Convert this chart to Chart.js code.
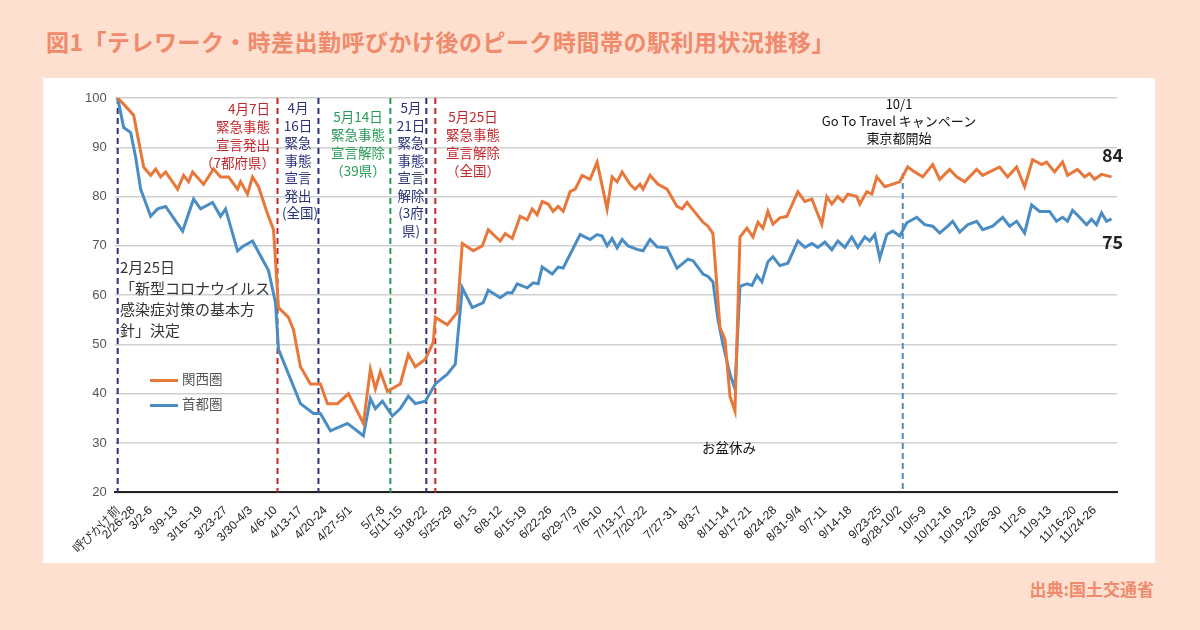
<!DOCTYPE html>
<html><head><meta charset="utf-8">
<script src="https://cdn.jsdelivr.net/npm/chart.js@4/dist/chart.umd.min.js"></script>
<style>
body{margin:0;width:1200px;height:630px;background:#fde0cf;font-family:"Noto Sans CJK JP","Noto Sans",sans-serif;position:relative;overflow:hidden}
#title{position:absolute;left:46px;top:24px;font-size:23px;font-weight:bold;color:#ef8a6d;letter-spacing:0.5px}
#src{position:absolute;right:46px;top:576px;font-size:17px;font-weight:bold;color:#ef8a6d}
#box{position:absolute;left:43px;top:78px;width:1112px;height:485px;background:#fff}
.a{position:absolute;font-size:13.5px;line-height:18px;text-align:center;white-space:nowrap}
</style></head><body>
<div id="title">図1「テレワーク・時差出勤呼びかけ後のピーク時間帯の駅利用状況推移」</div>
<div id="box"><canvas id="c" width="1112" height="485"></canvas></div>
<div id="src">出典:国土交通省</div>
<div class="a" style="left:200px;top:99px;color:#c0282d;text-align:right;width:70px">4月7日<br>緊急事態<br>宣言発出<br>（7都府県）</div>
<div class="a" style="left:282px;top:99px;color:#2b3278;width:32px;line-height:17.5px">4月<br>16日<br>緊急<br>事態<br>宣言<br>発出<br>(全国)</div>
<div class="a" style="left:325px;top:107px;color:#279a56;width:66px">5月14日<br>緊急事態<br>宣言解除<br>（39県）</div>
<div class="a" style="left:395px;top:99px;color:#2b3278;width:32px;line-height:17.5px">5月<br>21日<br>緊急<br>事態<br>宣言<br>解除<br>(3府<br>県)</div>
<div class="a" style="left:440px;top:107px;color:#c0282d;width:66px">5月25日<br>緊急事態<br>宣言解除<br>（全国）</div>
<div class="a" style="left:120px;top:256px;color:#333;text-align:left;font-size:15px;line-height:21px">2月25日<br>「新型コロナウイルス<br>感染症対策の基本方<br>針」決定</div>
<div class="a" style="left:814px;top:95px;color:#111;width:170px;font-size:13px;line-height:17px">10/1<br>Go To Travel キャンペーン<br>東京都開始</div>
<div class="a" style="left:1102px;top:145px;font-size:18px;font-weight:bold;color:#222">84</div>
<div class="a" style="left:1102px;top:232px;font-size:18px;font-weight:bold;color:#222">75</div>
<div class="a" style="left:702px;top:438px;color:#111;font-size:13.5px">お盆休み</div>
<div class="a" style="left:150px;top:369px;color:#555;text-align:left"><span style="display:inline-block;width:28px;height:3px;background:#e8773a;vertical-align:middle;margin-right:4px"></span>関西圏</div>
<div class="a" style="left:150px;top:394px;color:#555;text-align:left"><span style="display:inline-block;width:28px;height:3px;background:#4a8cc4;vertical-align:middle;margin-right:4px"></span>首都圏</div>
<script>
// x = weekday index (0 = Mon 3/2)
const kansaiDay=[-4.6,-3,-1.4,0.6,2,3,4,5,7.4,8.6,9.6,10.4,12.6,14.6,16,17.6,19.4,20,21.4,22.4,23.6,25.4,26.6,27.6,29.6,30.6,32,34,36,37.4,39.4,41.6,44.6,46,47,48,49.4,52,53.6,55,57,58.6,59,61.4,63.4,64.4,66.6,68.4,69.6,72,73,74.4,76,77.4,78.4,79.4,80.4,81.6,82.6,83.6,84.6,86,87,88.4,90,91.4,93.4,94.4,95.4,96.4,98,99,100,100.6,102,103.6,105.4,107.4,108.4,109.4,110.6,112.6,113.6,114.6,116,117,118,119,120,121.4,122.6,123.6,124.6,125.6,126.6,128,129.4,131.6,133,134.4,136.4,137.4,138.4,139.6,140.6,141.6,143.4,144,145.4,146.4,147.4,149,152,153.6,155,156.6,158.6,160,162,163.4,165,167.4,168.6,170,172,173.6,175.4,177,178.6,180.4,181.4,183,184.6,185.6,187.6,189,190,191,192.4,194.4];
const kansaiVal=[100,98.3,96.5,86,84.3,85.6,84,85,81.5,84.3,83,85,82.5,85.6,84,84,81.5,83,80.5,84,82,76.5,73.3,57.5,55.5,53,45.5,42,42,38,38,40,34,45,41,44.5,40.5,42,48,45.5,47,50.5,55.5,54,56.5,70.5,69,70,73.3,71,72.5,71.5,76,75.3,77.5,76.3,79,78.5,77,78,77,81,81.5,84.3,83.5,87,77.5,84,83,85,82.5,81.5,82.5,81.5,84.3,82.5,81.5,78,77.5,78.8,77.3,74.8,74,72.5,53.5,51,39.5,36.5,71.8,73.6,71.8,74.8,73.6,77,74.4,75.7,76,81,79,79.5,74.4,80,78.5,80,79,80.5,80,78.5,81,80.5,84,82,83,86,85,84,86.5,83.5,85.5,84,83,85.5,84.3,85,86,84,86,82,87.5,86.5,87,85,87,84.3,85.5,84,84.7,83.5,84.5,84];
const shutoDay=[-4.6,-3.4,-2,-1,0,2,3.4,5,8.4,10.6,12,14.4,16,17,19.4,20.6,22.4,24,25.6,27,27.6,32,34.6,36,38,41.4,44.6,46,47,48.4,50.4,52,53.6,55,57,59,61.4,63,64.4,66.4,68.6,69.6,72,73.4,74.4,75.4,77.4,78.6,79.6,80.4,82.4,83.6,84.6,86,88,90,91.4,92.4,93.4,94.4,95.4,96.4,97.6,99.4,100.6,102,103.4,105.4,107.4,109.6,110.6,112.6,113.6,114.6,115.6,116.6,118,119,120,121.4,122.4,123.4,124.4,125.6,126.6,128,129.6,131.6,133,134.4,135.6,137,138.4,139.6,141,142.4,143.6,145,146,147,148,149.4,150.6,152,153.4,155.4,157,158.6,160,161.6,162.6,164,165.6,167.4,168.6,170.6,172.6,174,175.4,177,178.4,180,182,183.4,184.6,185.6,186.6,188,189.4,190.4,191.4,192.4,193.4,194.4];
const shutoVal=[100,94,93,88,81.5,76,77.5,78,73,79.5,77.5,78.8,76,77.5,69,70,71,68,65,58.5,49,38,36,36,32.5,34,31.5,39,37,38.5,35.5,37,39.5,38,38.5,42,44,46,61.5,57.5,58.5,61,59.5,60.5,60.5,62.3,61.5,62.5,62.3,65.7,64.3,65.7,65.5,68.3,72.3,71.3,72.3,72,70,71.5,69.6,71.3,70,69.3,69,71.3,69.8,69.6,65.5,67.3,67,64.3,63.8,62.7,55,50,44,41,61.8,62.3,62,64,62.7,66.8,67.8,66,66.5,71,69.7,70.5,69.7,70.8,69.2,71,69.7,71.8,69.7,71.8,71,72.3,67.5,72.3,73,72,74.7,75.8,74.3,74,72.6,74,75,72.8,74.3,75,73.3,74,75.8,74,75,72.6,78.3,77,77,75,75.8,75,77.2,75.8,74.3,75.4,74.3,76.7,75,75.5];
const tickLabels=["呼びかけ前","2/26-28","3/2-6","3/9-13","3/16~19","3/23-27","3/30-4/3","4/6-10","4/13-17","4/20-24","4/27-5/1","5/7-8","5/11-15","5/18-22","5/25-29","6/1-5","6/8-12","6/15-19","6/22-26","6/29-7/3","7/6-10","7/13-17","7/20-22","7/27-31","8/3-7","8/11-14","8/17-21","8/24-28","8/31-9/4","9/7-11","9/14-18","9/23-25","9/28-10/2","10/5-9","10/12-16","10/19-23","10/26-30","11/2-6","11/9-13","11/16-20","11/24-26"];
const tickDays=[-4.6,-1.5,2,7,12,17,22,27,32,37,42,48.5,52,57,62,67,72,77,82,87,92,97,101,107,112,117.5,122,127,132,137,142,148,152,157,162,167,172,177,182,187,191];
const eventDays=[-4.6,27.4,35.6,50,57.2,59,152.6];
const eventColors=["#2b3278","#c0282d","#2b3278","#279a56","#2b3278","#c0282d","#4a8cc4"];

const vlines={id:'vl',beforeDatasetsDraw(ch){const {ctx,chartArea:a,scales:{x}}=ch;ctx.save();ctx.lineWidth=2;ctx.setLineDash([6,4]);
eventDays.forEach((d,i)=>{const px=x.getPixelForValue(d);ctx.strokeStyle=eventColors[i];ctx.beginPath();ctx.moveTo(px,i==6?a.top+75:a.top);ctx.lineTo(px,a.bottom);ctx.stroke();});ctx.restore();}};
new Chart(document.getElementById('c'),{type:'line',
data:{datasets:[
{label:'関西圏',data:kansaiDay.map((d,i)=>({x:d,y:kansaiVal[i]})),borderColor:'#e8773a',borderWidth:3,pointRadius:0,tension:0},
{label:'首都圏',data:shutoDay.map((d,i)=>({x:d,y:shutoVal[i]})),borderColor:'#4a8cc4',borderWidth:3,pointRadius:0,tension:0}]},
options:{responsive:false,animation:false,layout:{padding:{left:34,right:38,top:20,bottom:4}},
plugins:{legend:{display:false},tooltip:{enabled:false}},
scales:{
y:{min:20,max:100,ticks:{stepSize:10,color:'#555',font:{size:13,family:'Liberation Sans'},padding:8},grid:{color:'#d0d0d0',lineWidth:1.5,drawTicks:false},border:{display:false}},
x:{type:'linear',min:-5.2,max:195.5,afterBuildTicks(s){s.ticks=tickDays.map(v=>({value:v}));},
ticks:{autoSkip:false,maxRotation:45,minRotation:45,color:'#222',font:{size:12,family:'Liberation Sans'},callback:(v,i)=>tickLabels[i]},
grid:{display:false},border:{color:'#222',width:2}}}},
plugins:[vlines]});
</script></body></html>
